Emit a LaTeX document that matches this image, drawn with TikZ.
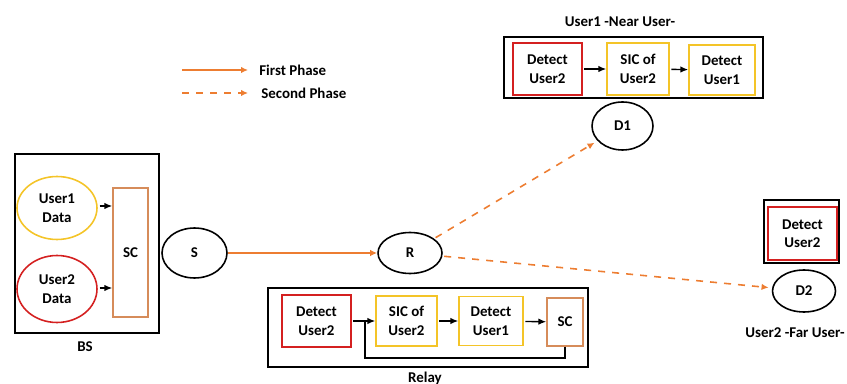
\documentclass[tikz,border=0pt]{standalone}
\usepackage{fontspec}
\setmainfont{Carlito}
\usetikzlibrary{arrows.meta,shapes.geometric}
\definecolor{phase}{RGB}{237,125,49}
\definecolor{gold}{RGB}{244,196,40}
\definecolor{crimson}{RGB}{212,32,32}
\definecolor{scbrown}{RGB}{214,140,90}
\begin{document}
\begin{tikzpicture}[x=0.02cm,y=-0.02cm,
  txt/.style={font=\bfseries\fontsize{8.5}{10.5}\selectfont,align=center,inner sep=0pt},
  blk/.style={txt,draw,line width=.8pt,minimum width=#1},
  frame/.style={draw=black,line width=1.1pt},
  oval/.style={txt,ellipse,draw,line width=.9pt},
  a/.style={-{Latex[length=1.6mm,width=1.3mm]},line width=.8pt,shorten <=1pt},
  ph1/.style={-{Latex[length=1.4mm,width=1.3mm]},draw=phase,line width=.9pt},
  ph2/.style={ph1,dash pattern=on 4pt off 4pt,shorten >=2pt,shorten <=1pt}]
\useasboundingbox (0,0) rectangle (847,384);
% legend
\coordinate (l1a) at (182,70); \coordinate (l1b) at (248,70);
\coordinate (l2a) at (182,93); \coordinate (l2b) at (248,93);
\draw[ph1] (l1a)--(l1b);
\draw[ph2,shorten >=0pt,shorten <=0pt] (l2a)--(l2b);
\node[txt,anchor=west] (first) at (259,70) {First Phase};
\node[txt,anchor=west] (second) at (261,93) {Second Phase};
% base station
\node[frame,minimum width=2.88cm,minimum height=3.58cm] (bs) at (87,243.5) {};
\node[txt] (bslbl) at (85,347) {BS};
\node[oval,draw=gold,minimum width=1.6cm,minimum height=1.26cm] (u1) at (57,208) {User1\\Data};
\node[oval,draw=crimson,minimum width=1.6cm,minimum height=1.34cm] (u2) at (57,289) {User2\\Data};
\node[blk=.7cm,draw=scbrown,minimum height=2.58cm] (sc) at (130.5,252.5) {SC};
\draw[a] (u1.east|-0,206)--(sc.west|-0,206);
\draw[a] (u2.east|-0,288)--(sc.west|-0,288);
\node[oval,minimum width=1.3cm,minimum height=1cm] (s) at (194.5,253) {S};
\node[oval,minimum width=1.28cm,minimum height=.82cm] (r) at (410,253) {R};
\draw[ph1] (s)--(r);
% relay
\node[frame,minimum width=6.4cm,minimum height=1.58cm] (relay) at (428,327.5) {};
\node[txt] (relaylbl) at (425,378) {Relay};
\node[blk=1.38cm,draw=crimson,minimum height=1.04cm] (rd2) at (316.5,321) {Detect\\User2};
\node[blk=1.22cm,draw=gold,minimum height=1cm] (rsic) at (406.5,321) {SIC of\\User2};
\node[blk=1.28cm,draw=gold,minimum height=.98cm] (rd1) at (491,321) {Detect\\User1};
\node[blk=.72cm,draw=scbrown,minimum height=.96cm] (rsc) at (565,322) {SC};
\draw[a] (rd2)--(rsic); \draw[a] (rsic)--(rd1); \draw[a] (rd1)--(rsc);
\coordinate (fb) at (365,358);
\draw[line width=.8pt] (rsc.south)|-(fb)--(fb|-rsic.west);
% near user
\node[frame,minimum width=5.18cm,minimum height=1.22cm] (d1box) at (633.5,67.5) {};
\node[txt] (nearlbl) at (620,22) {User1 -Near User-};
\node[blk=1.38cm,draw=crimson,minimum height=1.04cm] (dd2) at (547.5,69) {Detect\\User2};
\node[blk=1.24cm,draw=gold,minimum height=1.04cm] (dsic) at (638,69) {SIC of\\User2};
\node[blk=1.32cm,draw=gold,minimum height=1cm] (dd1) at (722,70) {Detect\\User1};
\draw[a] (dd2)--(dsic); \draw[a] (dsic)--(dd1);
\node[oval,minimum width=1.22cm,minimum height=.96cm] (d1) at (622.5,126) {D1};
% far user
\node[frame,minimum width=1.5cm,minimum height=1.26cm] (d2box) at (801.5,231.5) {};
\node[blk=1.38cm,draw=crimson,minimum height=1.06cm] (fd2) at (802.5,233.5) {Detect\\User2};
\node[oval,minimum width=1.26cm,minimum height=.84cm] (d2) at (804,291) {D2};
\node[txt] (farlbl) at (795,333) {User2 -Far User-};
\draw[ph2] (r)--(d1);
\draw[ph2] (r)--(d2);
\end{tikzpicture}
\end{document}
